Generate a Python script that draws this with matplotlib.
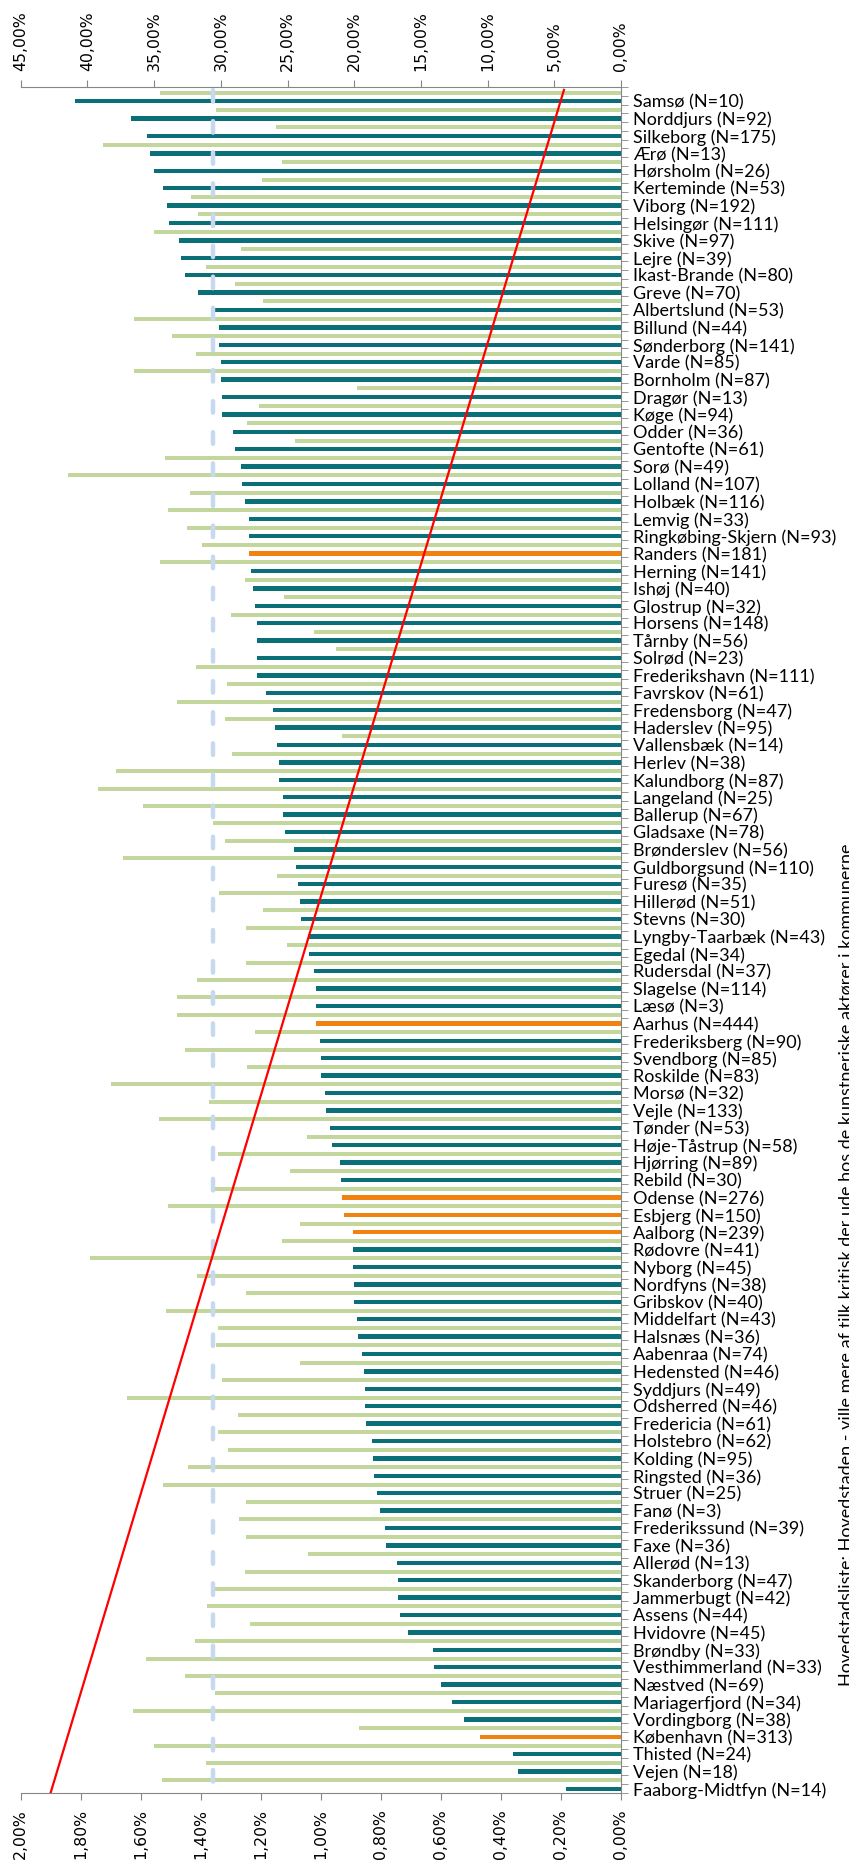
import numpy as np
import matplotlib
matplotlib.use("Agg")
import matplotlib.pyplot as plt
from matplotlib.ticker import FuncFormatter, MultipleLocator

municipalities = [
    "Samsø", "Norddjurs", "Silkeborg", "Ærø", "Hørsholm", "Kerteminde", "Viborg", "Helsingør",
    "Skive", "Lejre", "Ikast-Brande", "Greve", "Albertslund", "Billund", "Sønderborg", "Varde",
    "Bornholm", "Dragør", "Køge", "Odder", "Gentofte", "Sorø", "Lolland", "Holbæk", "Lemvig",
    "Ringkøbing-Skjern", "Randers", "Herning", "Ishøj", "Glostrup", "Horsens", "Tårnby", "Solrød",
    "Frederikshavn", "Favrskov", "Fredensborg", "Haderslev", "Vallensbæk", "Herlev", "Kalundborg",
    "Langeland", "Ballerup", "Gladsaxe", "Brønderslev", "Guldborgsund", "Furesø", "Hillerød",
    "Stevns", "Lyngby-Taarbæk", "Egedal", "Rudersdal", "Slagelse", "Læsø", "Aarhus",
    "Frederiksberg", "Svendborg", "Roskilde", "Morsø", "Vejle", "Tønder", "Høje-Tåstrup",
    "Hjørring", "Rebild", "Odense", "Esbjerg", "Aalborg", "Rødovre", "Nyborg", "Nordfyns",
    "Gribskov", "Middelfart", "Halsnæs", "Aabenraa", "Hedensted", "Syddjurs", "Odsherred",
    "Fredericia", "Holstebro", "Kolding", "Ringsted", "Struer", "Fanø", "Frederikssund", "Faxe",
    "Allerød", "Skanderborg", "Jammerbugt", "Assens", "Hvidovre", "Brøndby", "Vesthimmerland",
    "Næstved", "Mariagerfjord", "Vordingborg", "København", "Thisted", "Vejen", "Faaborg-Midtfyn",
]
n_obs = [
    10, 92, 175, 13, 26, 53, 192, 111, 97, 39, 80, 70, 53, 44, 141, 85, 87, 13, 94, 36, 61, 49,
    107, 116, 33, 93, 181, 141, 40, 32, 148, 56, 23, 111, 61, 47, 95, 14, 38, 87, 25, 67, 78, 56,
    110, 35, 51, 30, 43, 34, 37, 114, 3, 444, 90, 85, 83, 32, 133, 53, 58, 89, 30, 276, 150, 239,
    41, 45, 38, 40, 43, 36, 74, 46, 49, 46, 61, 62, 95, 36, 25, 3, 39, 36, 13, 47, 42, 44, 45, 33,
    33, 69, 34, 38, 313, 24, 18, 14,
]
# top axis (0-45 %)
share_top = [
    40.9, 36.7, 35.5, 35.3, 35.0, 34.3, 34.0, 33.9, 33.1, 33.0,
    32.7, 31.7, 30.6, 30.1, 30.1, 30.0, 30.0, 29.9, 29.9, 29.1,
    28.9, 28.5, 28.4, 28.2, 27.9, 27.9, 27.9, 27.7, 27.6, 27.4,
    27.3, 27.3, 27.3, 27.3, 26.6, 26.1, 25.9, 25.8, 25.6, 25.6,
    25.3, 25.3, 25.2, 24.5, 24.4, 24.2, 24.1, 24.0, 23.5, 23.4,
    23.0, 22.9, 22.9, 22.9, 22.6, 22.5, 22.5, 22.2, 22.1, 21.8,
    21.7, 21.1, 21.0, 20.9, 20.8, 20.1, 20.1, 20.1, 20.0, 20.0,
    19.8, 19.7, 19.4, 19.3, 19.2, 19.2, 19.1, 18.7, 18.6, 18.5,
    18.3, 18.1, 17.7, 17.6, 16.8, 16.7, 16.7, 16.6, 16.0, 14.1,
    14.0, 13.5, 12.7, 11.8, 10.6, 8.1, 7.7, 4.1,
]
# bottom axis (0-2 %)
share_bottom = [
    1.537, 1.348, 1.148, 1.726, 1.131, 1.196, 1.431, 1.408, 1.556, 1.267,
    1.384, 1.287, 1.192, 1.624, 1.496, 1.417, 1.624, 0.879, 1.206, 1.247,
    1.085, 1.518, 1.841, 1.437, 1.509, 1.447, 1.395, 1.536, 1.252, 1.124,
    1.299, 1.022, 0.951, 1.416, 1.313, 1.480, 1.321, 0.931, 1.297, 1.683,
    1.742, 1.591, 1.360, 1.321, 1.659, 1.146, 1.340, 1.193, 1.249, 1.114,
    1.249, 1.412, 1.480, 1.480, 1.221, 1.452, 1.245, 1.700, 1.372, 1.539,
    1.046, 1.344, 1.102, 1.352, 1.508, 1.070, 1.130, 1.770, 1.412, 1.249,
    1.516, 1.344, 1.348, 1.070, 1.329, 1.647, 1.277, 1.344, 1.309, 1.444,
    1.527, 1.249, 1.273, 1.249, 1.042, 1.253, 1.352, 1.379, 1.236, 1.420,
    1.582, 1.451, 1.352, 1.626, 0.873, 1.557, 1.382, 1.529,
]
highlight = ["Randers", "Aarhus", "Odense", "Esbjerg", "Aalborg", "København"]
bottom_avg = 1.36
trend_first, trend_last = 0.19, 1.90
side_note = ("Hovedstadsliste: Hovedstaden - ville mere af tilk kritisk der ude hos "
             "de kunstneriske aktører i kommunerne")

teal = "#0B6F78"
light_green = "#C3D69B"
orange = "#F0820F"
axis_grey = "#868686"

def pct(v, pos):
    return f"{v:.2f}%".replace(".", ",")

fig = plt.figure(figsize=(8.49, 18.75), dpi=100)
ax = fig.add_axes([20.7 / 849, 82.5 / 1875, (621 - 20.7) / 849, (1792.5 - 87.3) / 1875])
ax2 = ax.twiny()

n = len(municipalities)
rows = np.arange(n)
colors = [orange if m in highlight else teal for m in municipalities]
ax.barh(rows + 0.8, share_top, height=0.26, color=colors, zorder=2)
ax2.barh(rows + 0.3, share_bottom, height=0.23, color=light_green, zorder=2)

# average and trend
ax2.plot([bottom_avg, bottom_avg], [0.15, n - 0.1], color="#C6D9F1", lw=3.2,
         dashes=(2.6, 4.4), dash_capstyle="round", zorder=3)
ax2.plot([trend_first, trend_last], [0.15, n], color="red", lw=1.6, zorder=4)

ax.set_xlim(45, 0)
ax2.set_xlim(2, 0)
ax.set_ylim(n, 0)

ax.xaxis.tick_top()
ax2.xaxis.tick_bottom()
ax.xaxis.set_major_locator(MultipleLocator(5))
ax2.xaxis.set_major_locator(MultipleLocator(0.2))
ax.xaxis.set_major_formatter(FuncFormatter(pct))
ax2.xaxis.set_major_formatter(FuncFormatter(pct))
for a in (ax, ax2):
    a.tick_params(axis="x", labelrotation=90, labelsize=11.3, length=5, pad=7,
                  color=axis_grey, labelcolor="black")

ax.yaxis.tick_right()
ax.set_yticks(rows + 0.8)
ax.set_yticklabels([f"{m} (N={k})" for m, k in zip(municipalities, n_obs)],
                   fontsize=13, family="Lato")
ax.set_yticks(np.arange(0, n + 0.01, 0.5), minor=True)
ax.tick_params(axis="y", which="major", length=0, pad=9)
ax.tick_params(axis="y", which="minor", length=5, color=axis_grey)

for s in ("left", "bottom"):
    ax.spines[s].set_visible(False)
for s in ("left", "right", "top"):
    ax2.spines[s].set_visible(False)
for s in ("top", "right"):
    ax.spines[s].set_color(axis_grey)
ax2.spines["bottom"].set_color(axis_grey)

# note is cut off at the right edge, as in the original export
fig.text(839 / 849, (1875 - 1686) / 1875, side_note, rotation=90, ha="left", va="bottom",
         fontsize=13, family="Lato", color="black")

fig.savefig("out.png", dpi=100)
